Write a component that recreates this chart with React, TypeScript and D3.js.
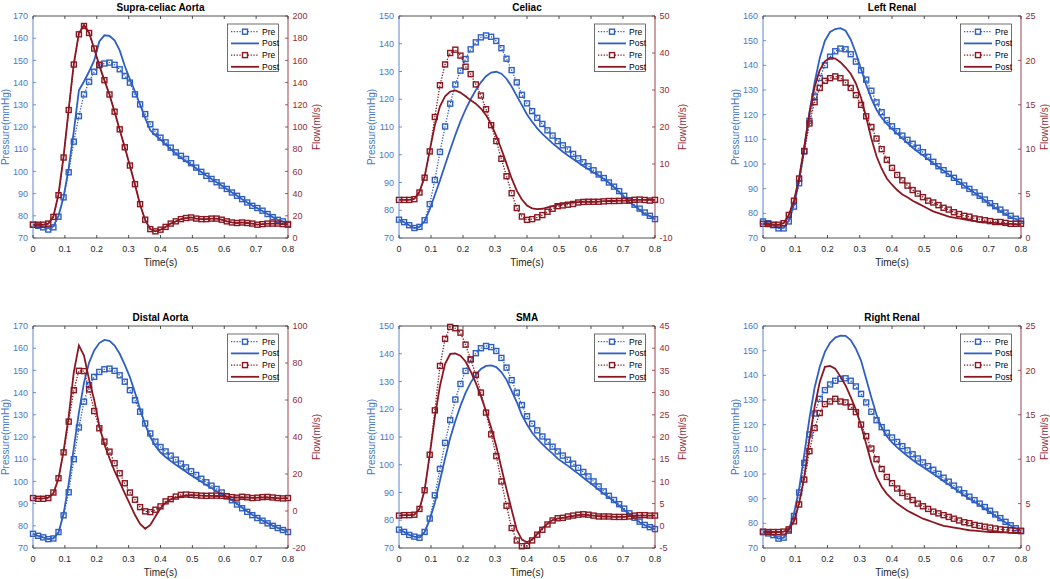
import React from "react";
import * as d3 from "d3";

// ---------- data ----------
const TIME = [0, 0.016, 0.032, 0.048, 0.064, 0.08, 0.096, 0.112, 0.128, 0.144, 0.16, 0.176, 0.192, 0.208, 0.224, 0.24, 0.256, 0.272, 0.288, 0.304, 0.32, 0.336, 0.352, 0.368, 0.384, 0.4, 0.416, 0.432, 0.448, 0.464, 0.48, 0.496, 0.512, 0.528, 0.544, 0.56, 0.576, 0.592, 0.608, 0.624, 0.64, 0.656, 0.672, 0.688, 0.704, 0.72, 0.736, 0.752, 0.768, 0.784, 0.8];
const TIME_TICKS = [0, 0.1, 0.2, 0.3, 0.4, 0.5, 0.6, 0.7, 0.8];
const TIME_TICK_LABELS = ["0", "0.1", "0.2", "0.3", "0.4", "0.5", "0.6", "0.7", "0.8"];

const P_TICKS_170 = [70, 80, 90, 100, 110, 120, 130, 140, 150, 160, 170];
const P_TICKS_150 = [70, 80, 90, 100, 110, 120, 130, 140, 150];
const P_TICKS_160 = [70, 80, 90, 100, 110, 120, 130, 140, 150, 160];
const F_TICKS_SC = [0, 20, 40, 60, 80, 100, 120, 140, 160, 180, 200];
const F_TICKS_CE = [-10, 0, 10, 20, 30, 40, 50];
const F_TICKS_RENAL = [0, 5, 10, 15, 20, 25];
const F_TICKS_DA = [-20, 0, 20, 40, 60, 80, 100];
const F_TICKS_SMA = [-5, 0, 5, 10, 15, 20, 25, 30, 35, 40, 45];

// Supra-celiac Aorta
const SC_P_PRE = [76.0, 75.5, 74.8, 73.8, 74.8, 79.6, 88.3, 99.6, 113.4, 124.9, 134.7, 140.4, 144.9, 148.1, 148.6, 149.0, 148.0, 146.0, 143.0, 140.0, 134.7, 130.2, 125.8, 121.2, 117.8, 115.2, 113.1, 110.7, 108.6, 107.0, 105.6, 103.7, 101.7, 99.8, 98.0, 96.6, 95.1, 93.6, 92.1, 90.5, 89.0, 87.5, 86.0, 84.5, 83.5, 82.3, 80.8, 79.4, 78.2, 77.5, 76.3];
const SC_P_POST = [76, 75.5, 75, 74.5, 75.3, 80, 88.5, 101.5, 118, 136.5, 140.5, 145, 150, 158.5, 161.3, 161, 159, 154.5, 147.5, 141.5, 136, 130, 124, 118.5, 116.3, 114.3, 112.2, 110, 108, 106.2, 104.6, 103, 101.3, 99.7, 98.1, 96.6, 95.1, 93.6, 92.1, 90.5, 89, 87.5, 86, 84.6, 83.4, 82.2, 80.8, 79.4, 78.2, 77.4, 76.5];
const SC_F_PRE = [12, 12, 12, 13, 19, 38.6, 72.5, 115.3, 156.3, 183.5, 191, 184.7, 170.7, 155.7, 142.2, 129.3, 113.8, 97.9, 81.7, 65.3, 48.5, 30.5, 16.5, 8, 6, 7.5, 10, 13, 15, 17, 18, 18.5, 17.5, 17, 17, 17.5, 17.5, 16.5, 15, 14, 13.5, 14, 13.5, 13, 12, 12.5, 13, 13, 13, 12.5, 12];
const SC_F_POST = [12, 12, 12, 13, 19.5, 39.5, 73.5, 116, 157, 184.5, 192, 185, 170.5, 155.5, 142, 129, 113.5, 97.5, 81.5, 65, 48, 30, 16, 8, 6, 7.5, 10, 13, 15, 17, 18, 18.5, 17.5, 17, 17, 17.5, 17.5, 16.5, 15, 14, 13.5, 14, 13.5, 13, 12, 12.5, 13, 13, 13, 12.5, 12];

// Celiac
const CE_P_PRE = [76.6, 75.7, 74.6, 73.6, 74.0, 76.4, 82.2, 90.9, 101.0, 110.2, 118.4, 125.3, 130.3, 134.5, 138.0, 140.5, 142.3, 143.0, 142.5, 141.0, 138.4, 134.6, 130.5, 126.1, 121.6, 118.5, 115.7, 113.3, 111.1, 108.8, 106.9, 104.9, 103.4, 101.9, 100.3, 98.7, 97.3, 95.9, 94.4, 92.9, 91.6, 90.0, 88.5, 86.9, 85.2, 83.5, 82.0, 80.6, 79.2, 78.0, 76.8];
const CE_P_POST = [76.6, 75.7, 74.6, 73.6, 74.0, 76.0, 80.3, 85.5, 90.7, 96.3, 101.8, 107.1, 112.0, 116.3, 120.0, 123.3, 126.1, 128.3, 129.6, 129.9, 129.2, 127.4, 124.6, 121.2, 117.9, 114.5, 111.9, 109.5, 107.5, 105.8, 104.1, 102.6, 101.1, 99.7, 98.5, 97.2, 95.9, 94.8, 93.6, 92.5, 91.3, 89.9, 88.3, 86.5, 84.7, 82.9, 81.6, 80.1, 78.7, 77.9, 76.8];
const CE_F_PRE = [0.3, 0.3, 0.3, 0.5, 2.3, 6.3, 13.4, 22.7, 31.3, 36.9, 40.0, 40.9, 39.3, 36.3, 34.3, 31.5, 28.5, 24.8, 20.5, 16.2, 11.4, 6.7, 2.1, -1.9, -4.2, -5.1, -4.9, -4.4, -3.8, -2.9, -2.1, -1.4, -1.2, -1.0, -0.8, -0.4, -0.25, -0.2, -0.2, -0.2, -0.1, 0.0, 0.0, 0.03, 0.1, 0.14, 0.32, 0.39, 0.28, 0.11, 0.3];
const CE_F_POST = [0.3, 0.3, 0.3, 0.6, 2.5, 6.6, 13.6, 20.5, 25.6, 28.3, 29.6, 29.9, 29.3, 28.3, 27.2, 26.3, 25.0, 23.2, 20.7, 17.6, 14.0, 10.1, 6.1, 2.8, 0.4, -1.2, -2.0, -2.2, -2.1, -1.7, -1.4, -1.0, -0.8, -0.6, -0.4, -0.3, -0.2, -0.2, -0.2, -0.15, -0.05, 0.0, 0.0, 0.1, 0.1, 0.2, 0.3, 0.3, 0.3, 0.3, 0.3];

// Left Renal
const LR_P_PRE = [76.7, 76.0, 75.2, 73.9, 73.9, 76.7, 82.7, 92.2, 105.1, 117.5, 127.4, 134.9, 140.1, 143.5, 145.7, 146.8, 146.5, 144.5, 141.5, 138.0, 134.2, 129.7, 125.0, 121.0, 117.8, 115.3, 113.3, 111.5, 109.8, 108.2, 106.6, 104.8, 102.9, 100.9, 99.1, 97.5, 96.0, 94.4, 92.8, 91.3, 89.9, 88.5, 87.1, 85.6, 84.1, 82.9, 81.5, 80.3, 79.0, 77.8, 77.0];
const LR_P_POST = [76.7, 76.0, 75.2, 74.0, 74.1, 77.1, 83.6, 93.0, 106.5, 121.0, 133.0, 143.0, 150.0, 153.5, 154.7, 155.1, 154.0, 150.5, 145.0, 138.5, 132.0, 126.5, 122.0, 118.8, 116.3, 114.2, 112.3, 110.4, 108.5, 106.6, 105.0, 103.5, 101.9, 100.3, 98.8, 97.3, 95.7, 94.2, 92.6, 91.2, 89.8, 88.3, 86.8, 85.2, 83.7, 82.3, 80.9, 79.6, 78.4, 77.7, 77.0];
const LR_F_PRE = [1.6, 1.57, 1.5, 1.5, 1.67, 2.6, 4.2, 6.7, 9.8, 12.9, 15.3, 16.9, 17.7, 18.0, 18.2, 18.0, 17.5, 16.9, 16.1, 15.0, 13.7, 12.5, 11.2, 10.0, 8.8, 7.9, 7.1, 6.5, 5.9, 5.4, 5.0, 4.6, 4.2, 4.0, 3.7, 3.4, 3.2, 2.9, 2.7, 2.5, 2.4, 2.2, 2.1, 2.0, 1.9, 1.8, 1.8, 1.7, 1.6, 1.6, 1.6];
const LR_F_POST = [1.6, 1.55, 1.5, 1.5, 1.67, 2.6, 4.2, 6.8, 10.3, 14.0, 17.0, 18.9, 19.9, 20.3, 20.2, 19.8, 19.2, 18.5, 17.4, 15.8, 13.6, 11.2, 9.2, 7.8, 6.7, 6.0, 5.4, 4.9, 4.6, 4.2, 3.9, 3.6, 3.3, 3.0, 2.8, 2.6, 2.4, 2.3, 2.2, 2.1, 2.0, 1.9, 1.8, 1.8, 1.7, 1.7, 1.6, 1.6, 1.6, 1.55, 1.5];

// Distal Aorta
const DA_P_PRE = [76.4, 75.5, 74.8, 74.0, 74.3, 77.2, 84.7, 95.1, 110.0, 124.3, 135.9, 143.4, 147.1, 149.3, 150.5, 150.8, 149.8, 147.8, 144.9, 141.1, 136.6, 131.4, 126.1, 121.6, 117.9, 115.5, 113.5, 111.6, 109.8, 108.0, 106.3, 104.6, 102.9, 101.2, 99.6, 98.1, 96.6, 95.0, 93.3, 91.5, 89.6, 87.9, 86.3, 84.8, 83.5, 82.3, 81.1, 80.0, 79.0, 78.1, 77.2];
const DA_P_POST = [76.4, 75.5, 74.8, 74.0, 74.3, 76.8, 85.5, 99.0, 115.0, 131.0, 144.5, 153.5, 159.0, 162.3, 163.7, 163.3, 161.2, 157.5, 152.5, 147.0, 140.0, 132.5, 125.5, 120.0, 116.0, 113.0, 111.0, 109.2, 107.5, 105.9, 104.3, 102.8, 101.3, 99.8, 98.4, 97.0, 95.6, 94.3, 92.9, 91.5, 89.9, 88.2, 86.6, 85.0, 83.6, 82.4, 81.2, 80.1, 79.1, 78.2, 77.2];
const DA_F_PRE = [7.0, 6.6, 6.6, 7.0, 10.0, 17.7, 31.7, 48.3, 65.3, 75.8, 75.6, 65.7, 54.0, 44.7, 37.5, 32.1, 25.8, 20.4, 15.0, 10.0, 6.1, 2.1, -0.2, -0.6, 0.7, 2.5, 5.2, 6.4, 7.8, 8.7, 8.9, 8.7, 8.5, 8.3, 8.2, 8.3, 8.3, 8.2, 8.0, 7.5, 7.2, 7.7, 7.4, 7.0, 7.2, 7.5, 7.6, 7.3, 7.0, 6.8, 7.0];
const DA_F_POST = [7.0, 6.8, 6.8, 7.2, 9.5, 17.5, 32.5, 51, 75, 89.5, 84, 71, 60, 46, 36, 28.5, 21.5, 15.6, 9.5, 3.7, -2.2, -7.0, -9.6, -7.5, -3, 1.5, 4.5, 6.3, 7.3, 7.9, 8.3, 8.5, 8.4, 8.3, 8.2, 8.2, 8.1, 8.0, 7.8, 7.5, 7.3, 7.4, 7.3, 7.1, 7.2, 7.3, 7.3, 7.1, 6.9, 6.8, 7.0];

// SMA
const SM_P_PRE = [76.6, 75.8, 74.7, 74.1, 73.7, 75.8, 80.6, 89.0, 98.5, 107.9, 116.1, 123.5, 129.1, 133.8, 138.0, 140.2, 142.0, 142.8, 142.4, 141.0, 138.5, 135.0, 130.5, 126.0, 121.5, 117.5, 114.8, 112.4, 110.2, 108.3, 106.5, 104.8, 103.3, 101.8, 100.4, 98.9, 97.4, 95.8, 94.0, 92.2, 90.4, 88.8, 87.3, 85.8, 84.2, 82.5, 80.9, 79.5, 78.3, 77.5, 76.8];
const SM_P_POST = [76.6, 75.8, 74.7, 74.1, 73.8, 75.7, 80.2, 86.2, 94.3, 102.3, 109.6, 115.8, 121.2, 125.9, 129.6, 132.4, 134.5, 135.6, 135.8, 135.2, 133.4, 130.6, 126.6, 122.6, 117.9, 114.5, 111.5, 109.3, 107.4, 105.6, 104.0, 102.2, 100.9, 99.6, 98.2, 96.8, 95.3, 93.9, 92.5, 91.0, 89.6, 88.2, 86.8, 85.2, 83.7, 82.1, 80.6, 79.3, 78.2, 77.5, 76.8];
const SM_F_PRE = [2.3, 2.4, 2.4, 2.5, 3.8, 8.0, 16.0, 26.0, 36.0, 42.1, 44.8, 44.5, 43.5, 40.8, 37.5, 34.0, 30.0, 25.5, 20.6, 15.7, 10.0, 4.5, -0.5, -3.3, -4.6, -4.5, -3.3, -2.0, -0.9, 0.3, 1.2, 1.7, 1.8, 2.1, 2.3, 2.5, 2.6, 2.5, 2.3, 2.1, 2.1, 2.1, 2.0, 2.0, 2.0, 2.1, 2.3, 2.4, 2.4, 2.3, 2.3];
const SM_F_POST = [2.3, 2.4, 2.4, 2.5, 3.8, 8.0, 16.0, 24.5, 31.5, 36.5, 38.7, 38.8, 38.3, 37.0, 34.8, 32.2, 29.2, 25.8, 22.1, 17.9, 13.0, 8.2, 3.6, -0.9, -3.1, -3.7, -3.1, -1.8, -0.6, 0.5, 1.3, 1.6, 1.8, 2.0, 2.2, 2.4, 2.5, 2.4, 2.3, 2.2, 2.1, 2.1, 2.0, 2.0, 2.0, 2.1, 2.2, 2.3, 2.3, 2.3, 2.3];

// Right Renal
const RR_P_PRE = [76.4, 75.9, 75.2, 73.8, 74.2, 77.0, 83.0, 92.5, 104.5, 116.0, 124.5, 130.5, 134.0, 136.3, 137.8, 138.6, 138.8, 137.8, 135.5, 132.5, 129.0, 125.2, 121.8, 119.0, 116.7, 114.8, 113.0, 111.3, 109.6, 108.0, 106.3, 104.7, 103.2, 101.7, 100.1, 98.5, 96.9, 95.3, 93.7, 92.2, 90.8, 89.4, 88.0, 86.6, 85.1, 83.6, 82.1, 80.6, 79.2, 78.0, 77.0];
const RR_P_POST = [76.4, 75.9, 75.2, 73.8, 74.2, 77.5, 84.0, 94.0, 108.0, 122.5, 135.0, 143.5, 149.5, 153.2, 155.3, 156.1, 156.0, 154.3, 150.8, 146.0, 138.5, 131.0, 124.0, 118.8, 115.3, 112.8, 110.8, 109.0, 107.3, 105.7, 104.2, 102.8, 101.4, 100.0, 98.6, 97.1, 95.7, 94.2, 92.8, 91.4, 90.0, 88.7, 87.3, 85.9, 84.5, 83.1, 81.7, 80.3, 79.0, 77.9, 76.9];
const RR_F_PRE = [1.85, 1.8, 1.8, 1.8, 1.85, 2.1, 3.0, 4.9, 7.7, 10.9, 13.5, 15.2, 16.2, 16.5, 16.8, 16.5, 16.4, 15.9, 15.3, 13.9, 12.6, 11.2, 10.0, 8.9, 8.0, 7.3, 6.7, 6.2, 5.8, 5.4, 5.0, 4.7, 4.4, 4.1, 3.9, 3.7, 3.5, 3.3, 3.1, 2.9, 2.8, 2.6, 2.5, 2.4, 2.3, 2.2, 2.1, 2.05, 2.0, 1.95, 1.9];
const RR_F_POST = [1.85, 1.8, 1.8, 1.8, 1.85, 2.1, 3.0, 5.05, 8.0, 12.2, 15.9, 18.7, 20.4, 20.5, 20.2, 19.3, 18.3, 17.0, 15.6, 13.8, 11.7, 9.6, 8.0, 6.9, 6.1, 5.5, 5.0, 4.6, 4.2, 3.9, 3.6, 3.3, 3.1, 2.9, 2.7, 2.5, 2.4, 2.3, 2.2, 2.1, 2.0, 1.95, 1.9, 1.85, 1.8, 1.8, 1.75, 1.75, 1.7, 1.7, 1.7];

const PANELS = [
  { title: "Supra-celiac Aorta", pDomain: [70, 170], pTicks: P_TICKS_170, fDomain: [0, 200], fTicks: F_TICKS_SC, pPre: SC_P_PRE, pPost: SC_P_POST, fPre: SC_F_PRE, fPost: SC_F_POST },
  { title: "Celiac", pDomain: [70, 150], pTicks: P_TICKS_150, fDomain: [-10, 50], fTicks: F_TICKS_CE, pPre: CE_P_PRE, pPost: CE_P_POST, fPre: CE_F_PRE, fPost: CE_F_POST },
  { title: "Left Renal", pDomain: [70, 160], pTicks: P_TICKS_160, fDomain: [0, 25], fTicks: F_TICKS_RENAL, pPre: LR_P_PRE, pPost: LR_P_POST, fPre: LR_F_PRE, fPost: LR_F_POST },
  { title: "Distal Aorta", pDomain: [70, 170], pTicks: P_TICKS_170, fDomain: [-20, 100], fTicks: F_TICKS_DA, pPre: DA_P_PRE, pPost: DA_P_POST, fPre: DA_F_PRE, fPost: DA_F_POST },
  { title: "SMA", pDomain: [70, 150], pTicks: P_TICKS_150, fDomain: [-5, 45], fTicks: F_TICKS_SMA, pPre: SM_P_PRE, pPost: SM_P_POST, fPre: SM_F_PRE, fPost: SM_F_POST },
  { title: "Right Renal", pDomain: [70, 160], pTicks: P_TICKS_160, fDomain: [0, 25], fTicks: F_TICKS_RENAL, pPre: RR_P_PRE, pPost: RR_P_POST, fPre: RR_F_PRE, fPost: RR_F_POST },
];

// ---------- layout & style ----------
const COLS = [
  { left: 33, right: 288, flowLabel: 32 },
  { left: 399, right: 655, flowLabel: 31 },
  { left: 763, right: 1021, flowLabel: 27 },
];
const ROWS = [
  { top: 16, bottom: 238 },
  { top: 326, bottom: 548 },
];

const BLUE = "#2f5fc2";
const BLUE_AXIS = "#4a77c8";
const RED = "#8a1721";
const RED_AXIS = "#8f2d38";
const DARK = "#262626";
const FONT = "'Liberation Sans', Arial, Helvetica, sans-serif";
const MS = 5;
const DOT = "1.3 1.5";

function Markers({ xs, ys, values, color }: any) {
  return (
    <g>
      {values.map((v: number, i: number) => (
        <rect key={i} x={xs(TIME[i]) - MS / 2} y={ys(v) - MS / 2} width={MS} height={MS}
          fill="none" stroke={color} strokeWidth={1.4} />
      ))}
    </g>
  );
}

function Panel({ p, col, row }: any) {
  const { left, right, flowLabel } = col;
  const { top, bottom } = row;
  const xs = d3.scaleLinear().domain([0, 0.8]).range([left, right]);
  const ps = d3.scaleLinear().domain(p.pDomain).range([bottom, top]);
  const fs = d3.scaleLinear().domain(p.fDomain).range([bottom, top]);
  const lineP = d3.line<number>().x((_, i) => xs(TIME[i])).y((v) => ps(v));
  const lineF = d3.line<number>().x((_, i) => xs(TIME[i])).y((v) => fs(v));
  const midY = (top + bottom) / 2;
  const midX = (left + right) / 2;
  const tl = 3;

  const lgW = 51, lgH = 47.5;
  const lgX = right - 9.5 - lgW;
  const lgY = top + 8;
  const rows = [
    { label: "Pre", color: BLUE, dotted: true },
    { label: "Post", color: BLUE, dotted: false },
    { label: "Pre", color: RED, dotted: true },
    { label: "Post", color: RED, dotted: false },
  ];

  return (
    <g fontFamily={FONT}>
      {/* data: pressure */}
      <path d={lineP(p.pPre) || ""} fill="none" stroke={BLUE} strokeWidth={1.3} strokeDasharray={DOT} />
      <Markers xs={xs} ys={ps} values={p.pPre} color={BLUE} />
      <path d={lineP(p.pPost) || ""} fill="none" stroke={BLUE} strokeWidth={1.8} />
      {/* data: flow */}
      <path d={lineF(p.fPre) || ""} fill="none" stroke={RED} strokeWidth={1.3} strokeDasharray={DOT} />
      <Markers xs={xs} ys={fs} values={p.fPre} color={RED} />
      <path d={lineF(p.fPost) || ""} fill="none" stroke={RED} strokeWidth={1.8} />

      {/* axes box */}
      <line x1={left} x2={right} y1={bottom} y2={bottom} stroke={DARK} strokeWidth={0.8} />
      <line x1={left} x2={right} y1={top} y2={top} stroke={DARK} strokeWidth={0.8} />
      <line x1={left} x2={left} y1={top} y2={bottom} stroke={BLUE_AXIS} strokeWidth={0.9} />
      <line x1={right} x2={right} y1={top} y2={bottom} stroke={RED_AXIS} strokeWidth={0.9} />

      {/* x ticks */}
      {TIME_TICKS.map((t, i) => (
        <g key={"xt" + i}>
          <line x1={xs(t)} x2={xs(t)} y1={bottom} y2={bottom - tl} stroke={DARK} strokeWidth={0.8} />
          <line x1={xs(t)} x2={xs(t)} y1={top} y2={top + tl} stroke={DARK} strokeWidth={0.8} />
          <text x={xs(t)} y={bottom + 13.5} fontSize={9} fill={DARK} textAnchor="middle">{TIME_TICK_LABELS[i]}</text>
        </g>
      ))}
      <text x={midX} y={bottom + 27.5} fontSize={10} fill={DARK} textAnchor="middle">Time(s)</text>

      {/* left ticks */}
      {p.pTicks.map((v: number) => (
        <g key={"pt" + v}>
          <line x1={left} x2={left + tl} y1={ps(v)} y2={ps(v)} stroke={BLUE_AXIS} strokeWidth={0.8} />
          <text x={left - 5} y={ps(v)} dy="0.35em" fontSize={9} fill={BLUE_AXIS} textAnchor="end">{v}</text>
        </g>
      ))}
      <text transform={`translate(${left - 24},${midY}) rotate(-90)`} fontSize={10} fill={BLUE_AXIS} textAnchor="middle">Pressure(mmHg)</text>

      {/* right ticks */}
      {p.fTicks.map((v: number) => (
        <g key={"ft" + v}>
          <line x1={right} x2={right - tl} y1={fs(v)} y2={fs(v)} stroke={RED_AXIS} strokeWidth={0.8} />
          <text x={right + 4.5} y={fs(v)} dy="0.35em" fontSize={9} fill={RED_AXIS} textAnchor="start">{v}</text>
        </g>
      ))}
      <text transform={`translate(${right + flowLabel},${midY}) rotate(-90)`} fontSize={10} fill={RED_AXIS} textAnchor="middle">Flow(ml/s)</text>

      {/* title */}
      <text x={midX} y={top - 5.5} fontSize={10} fontWeight="bold" fill="#000" textAnchor="middle">{p.title}</text>

      {/* legend */}
      <rect x={lgX} y={lgY} width={lgW} height={lgH} fill="#fff" stroke="#333" strokeWidth={0.7} />
      {rows.map((r, i) => {
        const cy = lgY + 7.7 + i * 11.7;
        return (
          <g key={"lg" + i}>
            <line x1={lgX + 3.5} x2={lgX + 31.5} y1={cy} y2={cy} stroke={r.color}
              strokeWidth={r.dotted ? 1.3 : 1.8} strokeDasharray={r.dotted ? DOT : undefined} />
            {r.dotted && (
              <rect x={lgX + 17.5 - MS / 2} y={cy - MS / 2} width={MS} height={MS} fill="#fff" stroke={r.color} strokeWidth={1.4} />
            )}
            <text x={lgX + 34.5} y={cy} dy="0.35em" fontSize={8.5} fill="#000">{r.label}</text>
          </g>
        );
      })}
    </g>
  );
}

export default function App() {
  return (
    <svg width={1050} height={579} style={{ position: "absolute", left: 0, top: 0, background: "#fff" }}>
      <rect x={0} y={0} width={1050} height={579} fill="#fff" />
      {PANELS.map((p, i) => (
        <Panel key={i} p={p} col={COLS[i % 3]} row={ROWS[Math.floor(i / 3)]} />
      ))}
    </svg>
  );
}
